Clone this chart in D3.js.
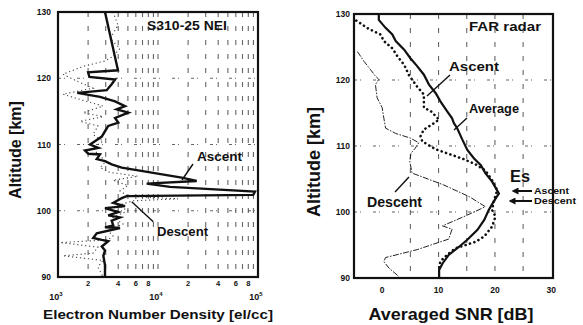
<!DOCTYPE html>
<html><head><meta charset="utf-8">
<script src="https://cdn.jsdelivr.net/npm/d3@7"></script>
<style>
body{margin:0;background:#fff}
svg{display:block}
text{font-family:"Liberation Sans",Arial,sans-serif;font-weight:bold;fill:#111}
</style></head>
<body><svg id="c" width="583" height="325"></svg>
<script>
// ---------------- data ----------------
const altTicks = [90, 100, 110, 120, 130];
const altGrid = [100, 110, 120];
const densMinorTicks = [2000, 4000, 6000, 8000, 20000, 40000, 60000, 80000];
const densMinorLabels = ["2", "4", "6", "8", "2", "4", "6", "8"];
const densDecades = [1e3, 1e4, 1e5];
const densDecadeExp = ["3", "4", "5"];
const densGrid = [2000,3000,4000,5000,6000,7000,8000,9000,10000,20000,30000,40000,50000,60000,70000,80000,90000];
const snrTicks = [0, 10, 20, 30];
const snrGrid = [5, 10, 15, 20, 25];

// S310-25 NEI : [altitude km, electron density el/cc]
const neiAscent = [
 [130,2950],[121.2,3980],[120.9,2000],[120.2,2060],[119.8,3720],[119.1,3440],[118.2,3070],
 [117.8,1560],[117.2,2630],[116.5,3720],[115.8,4680],[115.3,3860],[114.8,5050],[114.0,3720],
 [113.3,4010],[112.8,3180],[112.0,2950],[111.2,2740],[110.5,2340],[110.0,2090],[109.5,2530],
 [109.1,1860],[108.6,2010],[108.5,2630],[107.8,2440],[107.5,2950],[107.0,3440],[106.5,4340],
 [105.0,17260],[104.5,24380],[104.1,7710],[103.6,13180],[102.9,93300],[102.4,89700],
 [102.2,4860],[101.9,4340],[101.2,3570],[100.7,4680],[100.4,2950],[99.8,4010],[99.3,3180],
 [99.0,4170],[98.5,3440],[97.8,3570],[97.5,2950],[97.4,4170],[96.6,2440],[95.9,2250],
 [95.6,2740],[95.4,3180],[94.6,2740],[94.0,2950],[93.2,2840],[91.8,2950],[90.0,2950]
];
const neiDescent = [
 [130,3550],[128,3980],[126,3310],[124.5,4170],[123.3,3550],[122.6,2950],[121.8,1780],
 [120.6,1120],[119.5,1580],[118.5,2240],[117.6,1120],[116.8,1660],[115.8,2820],[114.8,1780],
 [114.2,2820],[113.5,1660],[112.8,2510],[111.5,2240],[110.5,2820],[109.5,2240],[108.5,2510],
 [107.5,3020],[106.5,2630],[105.8,3310],[105.2,6310],[104.6,3550],[103.8,5010],[103.0,4170],
 [102.2,5010],[101.8,15850],[101.5,5620],[100.8,3980],[100.0,5010],[99.0,3550],[98.0,4470],
 [97.0,3160],[96.2,3550],[95.6,3160],[95.2,1050],[94.5,2510],[93.6,2240],[93.2,1120],
 [92.5,2820],[91.5,2510],[90,2820]
];

// FAR radar : [altitude km, averaged SNR dB]
const farAscent = [
 [130.1,-0.6],[129.1,-0.6],[127.9,0.6],[126.9,1.8],[125.9,2.4],[124.6,3.9],[123.3,5.0],
 [122.1,6.2],[120.8,7.4],[119.3,8.3],[118.0,9.5],[116.8,10.3],[115.3,11.5],[114.2,12.4],
 [113.5,12.7],[112.7,13.3],[111.0,14.2],[109.4,15.1],[108.1,16.3],[107.1,17.5],[105.9,18.3],
 [104.6,19.5],[102.8,20.7],[101.6,19.8],[100.3,18.9],[98.8,18.1],[97.3,16.9],[95.8,15.1],
 [94.7,13.6],[93.5,11.8],[92.2,10.7],[91.2,10.1],[90,10.1]
];
const farAverage = [
 [129.0,-4.6],[128.9,-4.4],[127.9,-2.7],[126.9,-0.3],[125.9,0.3],[124.8,1.8],[123.6,2.7],
 [122.3,3.9],[120.8,4.7],[119.0,6.2],[117.8,7.4],[115.8,7.4],[115.3,8.6],[114.0,10.1],
 [113.3,8.9],[112.5,7.4],[111.5,6.8],[110.7,7.1],[109.5,9.5],[108.6,12.5],[108.0,14.5],
 [107.2,16.6],[106.3,18.3],[104.8,19.5],[103.3,20.4],[101.6,19.8],[100.3,19.5],[99.3,20.1],
 [97.8,19.5],[96.3,18.1],[95.5,16.6],[95.0,14.8],[94.5,13.0],[93.5,11.5],[92.5,10.3],[91.5,10.1]
];
const farDescent = [
 [124.3,-4.4],[122.8,-3.2],[121.6,-2.1],[120.6,-1.2],[120.1,-0.6],[119.3,-1.2],[117.3,-0.9],
 [115.8,0],[114.2,0.3],[112.7,0.6],[111.9,2.4],[111.2,5.0],[110.5,6.5],[109.6,5.8],[108.9,5.1],
 [107.6,4.9],[105.9,5.3],[104.1,10.9],[102.3,15.5],[100.8,18.3],[99.3,14.5],[97.9,10.7],
 [97.4,12.4],[95.9,11.8],[94.3,6.2],[93.1,0.6],[92.5,0.3],[91.5,1.2],[90.2,3.0]
];

// ---------------- drawing ----------------
const svg = d3.select("#c");
const ink = "#111";

const xL = d3.scaleLog().domain([1e3, 1e5]).range([58, 258]);
const yL = d3.scaleLinear().domain([90, 130]).range([277, 12]);
const xR = d3.scaleLinear().domain([-5, 30.3]).range([354, 553]);
const yR = d3.scaleLinear().domain([90, 130]).range([278, 14]);

const gL = svg.append("g"), gR = svg.append("g");

function gridLines(g, xs, xScale, yScale, ys) {
  const [x0, x1] = xScale.range(), [y1, y0] = yScale.range();
  g.selectAll(null).data(xs).join("line")
    .attr("x1", d => xScale(d)).attr("x2", d => xScale(d))
    .attr("y1", y0).attr("y2", y1)
    .attr("stroke", "#333").attr("stroke-width", 1.1).attr("stroke-dasharray", "5,9").attr("opacity", 0.75);
  g.selectAll(null).data(ys).join("line")
    .attr("x1", x0).attr("x2", x1)
    .attr("y1", d => yScale(d)).attr("y2", d => yScale(d))
    .attr("stroke", "#333").attr("stroke-width", 1.1).attr("stroke-dasharray", "3,3,1,12").attr("opacity", 0.75);
}
gridLines(gL, densGrid, xL, yL, altGrid);
gridLines(gR, snrGrid, xR, yR, altGrid);

const lineL = d3.line().x(d => xL(d[1])).y(d => yL(d[0]));
const lineR = d3.line().x(d => xR(d[1])).y(d => yR(d[0]));

gL.append("path").datum(neiDescent).attr("d", lineL).attr("fill", "none")
  .attr("stroke", "#444").attr("stroke-width", 1.1).attr("stroke-dasharray", "1.2,2.8");
gL.append("path").datum(neiAscent).attr("d", lineL).attr("fill", "none")
  .attr("stroke", ink).attr("stroke-width", 2.4).attr("stroke-linejoin", "miter");

gR.append("path").datum(farDescent).attr("d", lineR).attr("fill", "none")
  .attr("stroke", "#222").attr("stroke-width", 1).attr("stroke-dasharray", "6,1.5,1.5,1.5");
gR.append("path").datum(farAverage).attr("d", lineR).attr("fill", "none")
  .attr("stroke", ink).attr("stroke-width", 2.6).attr("stroke-dasharray", "0.1,4.5").attr("stroke-linecap", "round");
gR.append("path").datum(farAscent).attr("d", lineR).attr("fill", "none")
  .attr("stroke", ink).attr("stroke-width", 2.2);

function frame(g, xScale, yScale) {
  const [x0, x1] = xScale.range(), [y1, y0] = yScale.range();
  g.append("rect").attr("x", x0).attr("y", y0).attr("width", x1 - x0).attr("height", y1 - y0)
    .attr("fill", "none").attr("stroke", ink).attr("stroke-width", 2.2);
}
frame(gL, xL, yL);
frame(gR, xR, yR);

gL.selectAll(null).data(altTicks).join("text")
  .attr("x", 51).attr("y", d => yL(d) + 3).attr("text-anchor", "end").attr("font-size", 8.5).text(d => d);
gR.selectAll(null).data(altTicks).join("text")
  .attr("x", 350).attr("y", d => yR(d) + 3).attr("text-anchor", "end").attr("font-size", 8.5).text(d => d);

gL.selectAll(null).data(densMinorTicks).join("text")
  .attr("x", d => xL(d)).attr("y", 286).attr("text-anchor", "middle").attr("font-size", 7.5)
  .text((d, i) => densMinorLabels[i]);
const dec = gL.selectAll(null).data(densDecades).join("text")
  .attr("x", d => xL(d) - 2).attr("y", 300).attr("text-anchor", "middle").attr("font-size", 9);
dec.append("tspan").text("10");
dec.append("tspan").attr("dy", -4).attr("font-size", 6).text((d, i) => densDecadeExp[i]);

gR.selectAll(null).data(snrTicks).join("text")
  .attr("x", d => xR(d)).attr("y", 293).attr("text-anchor", "middle").attr("font-size", 8.5).text(d => d);

svg.append("text").attr("transform", "translate(21,150) rotate(-90)").attr("text-anchor", "middle")
  .attr("font-size", 16).text("Altitude [km]");
svg.append("text").attr("transform", "translate(320,162) rotate(-90)").attr("text-anchor", "middle")
  .attr("font-size", 18).text("Altitude [km]");
svg.append("text").attr("x", 158).attr("y", 319).attr("text-anchor", "middle")
  .attr("font-size", 12.5).attr("textLength", 230).attr("lengthAdjust", "spacingAndGlyphs")
  .text("Electron Number Density [el/cc]");
svg.append("text").attr("x", 451).attr("y", 320).attr("text-anchor", "middle")
  .attr("font-size", 17).attr("textLength", 165).attr("lengthAdjust", "spacingAndGlyphs")
  .text("Averaged SNR [dB]");

function label(x, y, s, size, len) {
  const t = svg.append("text").attr("x", x).attr("y", y).attr("font-size", size).text(s);
  if (len) t.attr("textLength", len).attr("lengthAdjust", "spacingAndGlyphs");
  return t;
}
function seg(x1, y1, x2, y2, w) {
  svg.append("line").attr("x1", x1).attr("y1", y1).attr("x2", x2).attr("y2", y2)
    .attr("stroke", ink).attr("stroke-width", w || 1.4);
}
label(147, 30, "S310-25 NEI", 12.5, 80);
label(197, 161, "Ascent", 12, 45);
seg(193, 164, 182, 180);
label(157, 236, "Descent", 12, 51);
seg(131.7, 201.7, 153.3, 221.7);

label(469, 31, "FAR radar", 12, 72);
label(449, 71, "Ascent", 13, 50);
seg(450, 75, 427, 96);
label(469, 113, "Average", 12.5, 50);
seg(467, 118, 454, 130);
label(367, 207, "Descent", 14.5, 55);
seg(395, 192, 409, 177);
label(510, 182, "Es", 17, 20);
label(534, 194, "Ascent", 8.5, 35);
label(534, 204, "Descent", 8.5, 42);
const defs = svg.append("defs");
defs.append("marker").attr("id", "ah").attr("viewBox", "0 0 10 10").attr("refX", 5).attr("refY", 5)
  .attr("markerWidth", 3.5).attr("markerHeight", 3.5).attr("orient", "auto")
  .append("path").attr("d", "M0,0L10,5L0,10Z").attr("fill", ink);
svg.append("line").attr("x1", 532).attr("y1", 191).attr("x2", 515).attr("y2", 191)
  .attr("stroke", ink).attr("stroke-width", 2).attr("marker-end", "url(#ah)");
svg.append("line").attr("x1", 532).attr("y1", 201).attr("x2", 512).attr("y2", 201)
  .attr("stroke", ink).attr("stroke-width", 2).attr("marker-end", "url(#ah)");
</script></body></html>
